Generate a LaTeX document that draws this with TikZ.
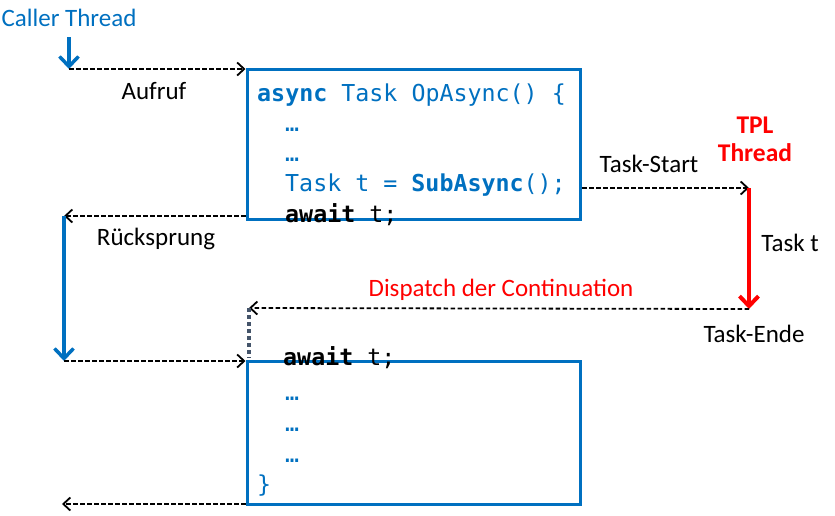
\documentclass[tikz,border=0pt]{standalone}
\usepackage{fontspec}
\setmainfont{Carlito}
\newfontfamily\codefont{DejaVu Sans Mono}
\usetikzlibrary{arrows.meta}
\definecolor{msblue}{HTML}{0070C0}
\definecolor{msred}{HTML}{FF0000}
\definecolor{msgray}{HTML}{44546A}
\begin{document}
\begin{tikzpicture}[x=1pt,y=-1pt,
  lbl/.style={font=\fontsize{25}{30}\selectfont, inner sep=0pt},
  code/.style={font=\codefont\fontsize{23.3}{28}\selectfont, inner sep=0pt, anchor=base west, text=msblue},
  codebox/.style={draw=msblue, line width=3pt, minimum width=333pt, inner sep=0pt, outer sep=0pt},
  call/.style={draw=black, line width=1.8pt, dash pattern=on 4.5pt off 2.5pt, -{Straight Barb[length=7pt,width=13pt]}},
  flow/.style={line width=3.5pt, -{Straight Barb[length=10pt,width=19pt]}}
]
\useasboundingbox (0,0) rectangle (835,515);

% boxes
\node[codebox, minimum height=150pt] (b1) at (413.5,144) {};
\node[codebox, minimum height=143pt] (b2) at (413.5,432.5) {};

% labels
\node[lbl, text=msblue] (caller) at (69,18) {Caller Thread};
\node[lbl] (aufruf) at (154,91) {Aufruf};
\node[lbl] (rueck) at (156,239) {Rücksprung};
\node[lbl] (tstart) at (649,164) {Task-Start};
\node[lbl, text=msred, font=\fontsize{25.5}{30}\selectfont\bfseries] (tpl1) at (755,125) {TPL};
\node[lbl, text=msred, font=\fontsize{25.5}{30}\selectfont\bfseries] (tpl2) at (755,153) {Thread};
\node[lbl] (taskt) at (790,243) {Task t};
\node[lbl, text=msred] (disp) at (501,290) {Dispatch der Continuation};
\node[lbl] (tende) at (754,334) {Task-Ende};

% code in box 1
\node[code] (l1) at (257,101) {\textbf{async} Task OpAsync() \{};
\node[code] (l2) at (285,131) {…};
\node[code] (l3) at (285,161) {…};
\node[code] (l4) at (285,191) {Task t = \textbf{SubAsync}();};
\node[code, text=black] (l5) at (285,222) {\textbf{await} t;};

% code in box 2
\node[code, text=black] (m1) at (283,365) {\textbf{await} t;};
\node[code] (m2) at (285,400) {…};
\node[code] (m3) at (285,431) {…};
\node[code] (m4) at (285,462) {…};
\node[code] (m5) at (257,492) {\}};

% coordinates
\coordinate (c0) at (69,37);
\coordinate (c1) at (69,69);
\coordinate (ts1) at (582,188);
\coordinate (tp1) at (749,188);
\coordinate (tp2) at (749,309);
\coordinate (d1) at (249,308);
\coordinate (d2) at (249,358);
\coordinate (r1) at (64,216);
\coordinate (r2) at (64,361);
\coordinate (e1) at (62,504);

% connectors
\draw[flow, draw=msblue] (c0) -- (c1);
\draw[call] (c1) -- ([xshift=-1.5pt]c1 -| b1.west);
\draw[call] (ts1) -- (tp1);
\draw[flow, draw=msred, line width=4pt] (tp1) -- (tp2);
\draw[call] (tp2) -- (d1);
\draw[draw=msgray, line width=3.5pt, dash pattern=on 3.5pt off 3.5pt] (d1) -- (d2);
\draw[call] ([xshift=-1.5pt]r1 -| b1.west) -- (r1);
\draw[flow, draw=msblue] (r1) -- (r2);
\draw[call] (r2) -- ([xshift=-1.5pt]r2 -| b2.west);
\draw[call] ([xshift=-1.5pt]b2.south west) -- (e1);
\end{tikzpicture}
\end{document}
